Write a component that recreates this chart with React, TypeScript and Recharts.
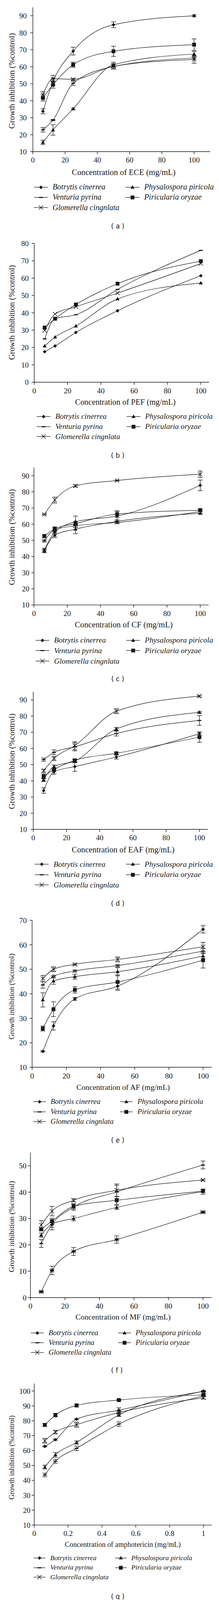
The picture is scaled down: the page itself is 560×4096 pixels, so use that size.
import React from "react";
import { ComposedChart, Line, Scatter, XAxis, YAxis, ErrorBar, Legend } from "recharts";

const S = 560 / 600;
const PH = 640;
const INK = "#161616";
const SERIF = '"Liberation Serif", "Times New Roman", serif';
const SANS = '"DejaVu Sans", Verdana, sans-serif';

const fungi = ["Botrytis cinerrea", "Venturia pyrina", "Glomerella cingnlata", "Physalospora piricola", "Piricularia oryzae"];
type Shape = "diamond" | "dash" | "cross" | "triangle" | "square";
const shapes: Shape[] = ["diamond", "dash", "cross", "triangle", "square"];

const doses = [6.25, 12.5, 25, 50, 100];
const doseTicks = [0, 20, 40, 60, 80, 100];
const ampDoses = [0.0625, 0.125, 0.25, 0.5, 1];
const ampTicks = [0, 0.2, 0.4, 0.6, 0.8, 1];

// (a) ECE
const eceBotrytis = [33.8, 51.2, 69.2, 84.7, 90.0];
const eceVenturia = [22.9, 28.6, 50.3, 60.1, 65.2];
const eceGlomerella = [43.5, 53.0, 52.6, 60.3, 64.3];
const ecePhysalospora = [15.5, 22.8, 35.2, 61.2, 67.5];
const ecePiricularia = [41.6, 49.4, 61.2, 69.1, 73.0];
const eceBotrytisSd = [1.5, 2.0, 2.3, 1.7, 0.6];
const eceVenturiaSd = [1.3, 0.4, 1.3, 1.5, 1.0];
const eceGlomerellaSd = [1.9, 2.0, 0.5, 1.5, 2.2];
const ecePhysalosporaSd = [1.3, 3.1, 0.5, 1.5, 1.5];
const ecePiriculariaSd = [1.8, 2.0, 1.5, 3.0, 3.4];

// (b) PEF
const pefBotrytis = [17.6, 20.9, 28.7, 41.2, 61.4];
const pefVenturia = [25.0, 36.6, 38.9, 53.5, 76.0];
const pefGlomerella = [29.8, 39.3, 43.5, 51.4, 68.4];
const pefPhysalospora = [20.9, 26.0, 32.4, 48.0, 57.2];
const pefPiricularia = [31.5, 36.6, 44.8, 56.8, 69.8];
const pefSd = [0, 0, 0, 0, 0];

// (c) CF
const cfBotrytis = [44.2, 55.0, 61.5, 65.0, 84.0];
const cfVenturia = [49.7, 56.5, 59.0, 61.0, 67.8];
const cfGlomerella = [66.0, 74.9, 83.7, 87.0, 90.9];
const cfPhysalospora = [43.3, 53.2, 56.9, 61.7, 66.8];
const cfPiricularia = [52.6, 57.1, 60.3, 66.2, 68.6];
const cfBotrytisSd = [0.8, 1.0, 3.5, 3.0, 3.3];
const cfVenturiaSd = [0.8, 1.0, 1.0, 0.8, 1.0];
const cfGlomerellaSd = [0.3, 1.8, 0.7, 0.3, 2.0];
const cfPhysalosporaSd = [1.0, 1.5, 2.8, 1.0, 0.8];
const cfPiriculariaSd = [1.0, 1.2, 1.2, 2.0, 1.0];

// (d) EAF
const eafBotrytis = [34.0, 45.6, 48.8, 54.7, 69.1];
const eafVenturia = [53.1, 57.6, 61.0, 69.2, 77.3];
const eafGlomerella = [46.2, 53.8, 61.7, 83.0, 92.3];
const eafPhysalospora = [40.6, 48.8, 52.2, 72.0, 82.3];
const eafPiricularia = [42.8, 47.0, 52.6, 57.0, 67.0];
const eafBotrytisSd = [1.7, 1.5, 3.0, 1.3, 1.0];
const eafVenturiaSd = [1.0, 1.5, 2.5, 1.5, 3.0];
const eafGlomerellaSd = [1.0, 1.2, 2.5, 1.5, 0.5];
const eafPhysalosporaSd = [1.0, 1.0, 1.0, 1.0, 0.5];
const eafPiriculariaSd = [1.5, 1.0, 1.0, 0.8, 3.2];

// (e) AF
const afBotrytis = [16.5, 26.9, 37.9, 43.1, 66.3];
const afVenturia = [43.6, 47.1, 49.3, 51.5, 57.4];
const afGlomerella = [46.2, 50.0, 52.0, 54.0, 59.2];
const afPhysalospora = [37.5, 45.2, 47.0, 49.0, 55.4];
const afPiricularia = [25.8, 33.7, 41.6, 44.8, 53.7];
const afBotrytisSd = [0.3, 1.7, 0.6, 1.7, 1.5];
const afVenturiaSd = [1.3, 0.5, 0.5, 0.5, 1.0];
const afGlomerellaSd = [1.3, 1.0, 0.3, 1.0, 1.8];
const afPhysalosporaSd = [2.9, 1.3, 1.0, 1.7, 1.0];
const afPiriculariaSd = [1.0, 3.0, 1.3, 2.9, 3.2];

// (f) MF
const mfBotrytis = [2.2, 10.3, 17.5, 22.0, 32.4];
const mfVenturia = [20.5, 27.7, 34.3, 40.1, 50.3];
const mfGlomerella = [27.5, 32.8, 36.9, 40.7, 44.6];
const mfPhysalospora = [23.7, 27.9, 30.0, 34.2, 40.2];
const mfPiricularia = [25.9, 29.0, 34.6, 36.9, 40.4];
const mfBotrytisSd = [0.3, 1.6, 1.5, 1.4, 0.4];
const mfBotrytisXSd = [1.1, 1.0, 1.0, 1.0, 1.2];
const mfVenturiaSd = [1.5, 1.0, 1.2, 2.5, 1.5];
const mfGlomerellaSd = [1.7, 1.8, 0.6, 2.4, 0.3];
const mfPhysalosporaSd = [0.8, 2.2, 0.9, 0.8, 1.0];
const mfPiriculariaSd = [0.6, 0.6, 1.0, 1.5, 0.4];

// (g) amphotericin
const ampBotrytis = [62.8, 67.3, 81.1, 87.1, 100.0];
const ampVenturia = [43.6, 52.8, 61.5, 77.8, 96.8];
const ampGlomerella = [66.6, 72.4, 77.4, 85.5, 95.4];
const ampPhysalospora = [48.9, 57.1, 65.4, 83.9, 99.7];
const ampPiricularia = [77.2, 83.8, 90.3, 93.9, 97.4];
const ampBotrytisSd = [0.3, 0.4, 0.4, 1.6, 0.3];
const ampVenturiaSd = [1.2, 1.3, 1.5, 1.5, 0.6];
const ampGlomerellaSd = [1.6, 1.2, 1.7, 0.8, 0.8];
const ampPhysalosporaSd = [1.3, 1.6, 1.1, 1.0, 0.3];
const ampPiriculariaSd = [1.0, 1.2, 1.1, 0.4, 0.8];

const ticks10to90 = [10, 20, 30, 40, 50, 60, 70, 80, 90];

type Spec = {
  tag: string;
  top: number;
  title: string;
  x: number[];
  xTicks: number[];
  xDomain: [number, number];
  yDomain: [number, number];
  yTicks: number[];
  vals: number[][];
  sd: number[][];
  xSd?: number[];
  box: { l: number; t: number; b: number; r: number };
  yGap: number;
  tk: number;
  titleX: number;
  titleY: number;
  xt: number;
  yTitleY: number;
  yt: number;
  lg: number;
  leg: { x1: number; x2: number; tx: number; row: number; gap: number };
  tagX: number;
  tagY: number;
};

const panels: Spec[] = [
  {
    tag: "a", top: 0, title: "Concentration of ECE (mg/mL)", x: doses, xTicks: doseTicks, xDomain: [0, 110],
    yDomain: [10, 95], yTicks: ticks10to90,
    vals: [eceBotrytis, eceVenturia, eceGlomerella, ecePhysalospora, ecePiricularia],
    sd: [eceBotrytisSd, eceVenturiaSd, eceGlomerellaSd, ecePhysalosporaSd, ecePiriculariaSd],
    box: { l: 90, t: 20, b: 416, r: 576 }, yGap: 16.7, tk: 20.5,
    titleX: 339, titleY: 472, xt: 22.3, yTitleY: 222, yt: 22.3, lg: 21.4,
    leg: { x1: 93, x2: 344, tx: 51, row: 513.5, gap: 28.1 }, tagX: 322.6, tagY: 620.7,
  },
  {
    tag: "b", top: 620, title: "Concentration of PEF (mg/mL)", x: doses, xTicks: doseTicks, xDomain: [0, 105],
    yDomain: [0, 80], yTicks: [0, 10, 20, 30, 40, 50, 60, 70, 80],
    vals: [pefBotrytis, pefVenturia, pefGlomerella, pefPhysalospora, pefPiricularia],
    sd: [pefSd, pefSd, pefSd, pefSd, pefSd],
    box: { l: 93.8, t: 47.4, b: 428, r: 573 }, yGap: 15.3, tk: 20.5,
    titleX: 343.5, titleY: 482, xt: 21.9, yTitleY: 237.6, yt: 22.1, lg: 20.8,
    leg: { x1: 101, x2: 347, tx: 50.5, row: 522.3, gap: 27.7 }, tagX: 322.6, tagY: 628.8,
  },
  {
    tag: "c", top: 1240, title: "Concentration of CF (mg/mL)", x: doses, xTicks: doseTicks, xDomain: [0, 105],
    yDomain: [10, 95], yTicks: ticks10to90,
    vals: [cfBotrytis, cfVenturia, cfGlomerella, cfPhysalospora, cfPiricularia],
    sd: [cfBotrytisSd, cfVenturiaSd, cfGlomerellaSd, cfPhysalosporaSd, cfPiriculariaSd],
    box: { l: 93, t: 42.9, b: 419.6, r: 571.4 }, yGap: 12.6, tk: 20.5,
    titleX: 339, titleY: 473.5, xt: 22.2, yTitleY: 233.7, yt: 22.4, lg: 21,
    leg: { x1: 97.6, x2: 346.3, tx: 50.5, row: 516.3, gap: 28.6 }, tagX: 322.6, tagY: 622.4,
  },
  {
    tag: "d", top: 1870, title: "Concentration of EAF (mg/mL)", x: doses, xTicks: doseTicks, xDomain: [0, 105],
    yDomain: [10, 95], yTicks: ticks10to90,
    vals: [eafBotrytis, eafVenturia, eafGlomerella, eafPhysalospora, eafPiricularia],
    sd: [eafBotrytisSd, eafVenturiaSd, eafGlomerellaSd, eafPhysalosporaSd, eafPiriculariaSd],
    box: { l: 91.1, t: 27.8, b: 405.3, r: 569.1 }, yGap: 17.2, tk: 20.5,
    titleX: 337.4, titleY: 460, xt: 22.1, yTitleY: 218.4, yt: 22.3, lg: 21,
    leg: { x1: 95.7, x2: 345.2, tx: 51, row: 500.8, gap: 28.2 }, tagX: 322.6, tagY: 608.2,
  },
  {
    tag: "e", top: 2500, title: "Concentration of AF (mg/mL)", x: doses, xTicks: doseTicks, xDomain: [0, 105],
    yDomain: [10, 70], yTicks: [10, 20, 30, 40, 50, 60, 70],
    vals: [afBotrytis, afVenturia, afGlomerella, afPhysalospora, afPiricularia],
    sd: [afBotrytisSd, afVenturiaSd, afGlomerellaSd, afPhysalosporaSd, afPiriculariaSd],
    box: { l: 88, t: 24.5, b: 427.8, r: 579.8 }, yGap: 14.5, tk: 21,
    titleX: 337.4, titleY: 482.9, xt: 21.2, yTitleY: 232.7, yt: 20, lg: 20.2,
    leg: { x1: 91.1, x2: 329.1, tx: 47.5, row: 522.4, gap: 27.2 }, tagX: 322.6, tagY: 627.8,
  },
  {
    tag: "f", top: 3130, title: "Concentration of MF (mg/mL)", x: doses, xTicks: doseTicks, xDomain: [0, 105],
    yDomain: [0, 55], yTicks: [0, 10, 20, 30, 40, 50],
    vals: [mfBotrytis, mfVenturia, mfGlomerella, mfPhysalospora, mfPiricularia],
    sd: [mfBotrytisSd, mfVenturiaSd, mfGlomerellaSd, mfPhysalosporaSd, mfPiriculariaSd],
    xSd: mfBotrytisXSd,
    box: { l: 83.4, t: 31.8, b: 429.4, r: 579.8 }, yGap: 10.7, tk: 21,
    titleX: 337.2, titleY: 482.9, xt: 21.2, yTitleY: 234.7, yt: 21.3, lg: 20.1,
    leg: { x1: 85, x2: 323.4, tx: 48.2, row: 525.7, gap: 27 }, tagX: 320.3, tagY: 628.6,
  },
  {
    tag: "g", top: 3760, title: "Concentration of amphotericin (mg/mL)", x: ampDoses, xTicks: ampTicks, xDomain: [0, 1.048],
    yDomain: [10, 105], yTicks: [10, 20, 30, 40, 50, 60, 70, 80, 90, 100],
    vals: [ampBotrytis, ampVenturia, ampGlomerella, ampPhysalospora, ampPiricularia],
    sd: [ampBotrytisSd, ampVenturiaSd, ampGlomerellaSd, ampPhysalosporaSd, ampPiriculariaSd],
    box: { l: 93.8, t: 35.2, b: 423.3, r: 579.8 }, yGap: 10.4, tk: 20.5,
    titleX: 336.4, titleY: 476.6, xt: 19.7, yTitleY: 237.7, yt: 19.6, lg: 18.7,
    leg: { x1: 92.6, x2: 314.6, tx: 45.2, row: 513.8, gap: 26 }, tagX: 322.6, tagY: 618.7,
  },
];

function Mark({ shape, cx, cy }: { shape: Shape; cx: number; cy: number }) {
  const u = S;
  if (cx == null || cy == null) return null;
  switch (shape) {
    case "diamond": {
      const r = 5 * u;
      return <polygon points={`${cx},${cy - r} ${cx + r},${cy} ${cx},${cy + r} ${cx - r},${cy}`} fill={INK} />;
    }
    case "square": {
      const r = 5.2 * u;
      return <rect x={cx - r} y={cy - r} width={2 * r} height={2 * r} fill={INK} />;
    }
    case "triangle":
      return (
        <polygon
          points={`${cx},${cy - 5.6 * u} ${cx + 5.4 * u},${cy + 3.8 * u} ${cx - 5.4 * u},${cy + 3.8 * u}`}
          fill={INK}
        />
      );
    case "dash":
      return <rect x={cx - 5.2 * u} y={cy - 1.5 * u} width={10.4 * u} height={3 * u} fill={INK} />;
    default: {
      const r = 5.8 * u;
      return (
        <path
          d={`M${cx - r},${cy - r}L${cx + r},${cy + r}M${cx - r},${cy + r}L${cx + r},${cy - r}`}
          stroke={INK}
          strokeWidth={1.4 * S}
          fill="none"
        />
      );
    }
  }
}

// two legend columns, as laid out in the figure
const legendSlots: [number, number, number][] = [
  [0, 0, 0], [3, 1, 0], [1, 0, 1], [4, 1, 1], [2, 0, 2],
];

function LegendBlock({ p }: { p: Spec }) {
  const L = p.leg;
  const lineW = (L.tx - 13) * S;
  const h = 16 * S;
  return (
    <div style={{ position: "relative", width: 600 * S, height: 3 * L.gap * S }}>
      {legendSlots.map(([i, col, row]) => (
        <div
          key={i}
          style={{
            position: "absolute",
            left: (col === 0 ? L.x1 : L.x2) * S,
            top: row * L.gap * S,
            height: L.gap * S,
            display: "flex",
            alignItems: "center",
            whiteSpace: "nowrap",
          }}
        >
          <svg width={lineW} height={h} style={{ display: "block" }}>
            <line x1={0} y1={h / 2} x2={lineW} y2={h / 2} stroke={INK} strokeWidth={1.3 * S} />
            <Mark shape={shapes[i]} cx={lineW / 2} cy={h / 2} />
          </svg>
          <span
            style={{
              marginLeft: 13 * S,
              fontFamily: SERIF,
              fontStyle: "italic",
              fontSize: p.lg * S,
              color: INK,
              lineHeight: 1,
            }}
          >
            {fungi[i]}
          </span>
        </div>
      ))}
    </div>
  );
}

function Panel({ p }: { p: Spec }) {
  const W = 600 * S;
  const H = PH * S;
  const XH = 34;
  const { l, t, b, r } = p.box;
  const axisStyle = { stroke: INK, strokeWidth: 1.5 * S };
  const tickStyle = { fill: INK, fontSize: p.tk * S, fontFamily: SERIF };

  return (
    <div style={{ position: "absolute", left: 0, top: p.top * S, width: W, height: H }}>
      <ComposedChart
        width={W}
        height={H}
        margin={{ top: t * S, right: (600 - r) * S, bottom: (PH - b - XH) * S, left: 0 }}
      >
        <XAxis
          type="number"
          dataKey="x"
          domain={p.xDomain}
          ticks={p.xTicks}
          interval={0}
          allowDataOverflow
          height={XH * S}
          tickSize={7 * S}
          tickMargin={8.5 * S}
          axisLine={axisStyle}
          tickLine={axisStyle}
          tick={tickStyle}
        />
        <YAxis
          type="number"
          domain={p.yDomain}
          ticks={p.yTicks}
          interval={0}
          allowDataOverflow
          width={l * S}
          tickSize={7 * S}
          tickMargin={(p.yGap - 7) * S}
          axisLine={axisStyle}
          tickLine={axisStyle}
          tick={tickStyle}
        />
        {p.vals.map((vals, si) => {
          const rows = p.x.map((x, i) => ({ x, y: vals[i], e: p.sd[si][i] }));
          return (
            <Line
              key={fungi[si]}
              name={fungi[si]}
              data={rows}
              dataKey="y"
              type="monotone"
              stroke={INK}
              strokeWidth={1.3 * S}
              activeDot={false}
              isAnimationActive={false}
              dot={(d: any) => <Mark key={`${si}-${d.index}`} shape={shapes[si]} cx={d.cx} cy={d.cy} />}
            >
              <ErrorBar
                dataKey="e"
                direction="y"
                width={6.5 * S}
                stroke={INK}
                strokeWidth={1.4 * S}
                isAnimationActive={false}
              />
            </Line>
          );
        })}
        {p.xSd && (
          <Scatter
            name="x-error"
            data={p.x.map((x, i) => ({ x, y: p.vals[0][i], xe: p.xSd![i] }))}
            dataKey="y"
            legendType="none"
            isAnimationActive={false}
            shape={(d: any) => <Mark shape="diamond" cx={d.cx} cy={d.cy} />}
          >
            <ErrorBar
              dataKey="xe"
              direction="x"
              width={6 * S}
              stroke={INK}
              strokeWidth={1.4 * S}
              isAnimationActive={false}
            />
          </Scatter>
        )}
        <Legend
          layout="horizontal"
          verticalAlign="middle"
          align="center"
          wrapperStyle={{ left: 0, top: (p.leg.row - p.leg.gap / 2) * S, width: W }}
          content={() => <LegendBlock p={p} />}
        />
      </ComposedChart>
      <div
        style={{
          position: "absolute",
          left: p.titleX * S,
          top: p.titleY * S,
          transform: "translate(-50%, -50%)",
          whiteSpace: "nowrap",
          fontFamily: SERIF,
          fontSize: p.xt * S,
          color: INK,
          lineHeight: 1,
        }}
      >
        {p.title}
      </div>
      <div
        style={{
          position: "absolute",
          left: 32.5 * S,
          top: p.yTitleY * S,
          transform: "translate(-50%, -50%) rotate(-90deg)",
          whiteSpace: "nowrap",
          fontFamily: SERIF,
          fontSize: p.yt * S,
          color: INK,
          lineHeight: 1,
        }}
      >
        Growth inhibition (%control)
      </div>
      <div
        style={{
          position: "absolute",
          left: p.tagX * S,
          top: p.tagY * S,
          transform: "translate(-50%, -50%)",
          whiteSpace: "pre",
          fontFamily: SANS,
          fontSize: 18 * S,
          color: INK,
          lineHeight: 1,
        }}
      >
        {`( ${p.tag} )`}
      </div>
    </div>
  );
}

export default function App() {
  return (
    <div
      style={{
        position: "absolute",
        left: 0,
        top: 0,
        width: 600 * S,
        height: 4388 * S,
        overflow: "hidden",
        background: "#fff",
      }}
    >
      {panels.map((p) => (
        <Panel key={p.tag} p={p} />
      ))}
    </div>
  );
}
